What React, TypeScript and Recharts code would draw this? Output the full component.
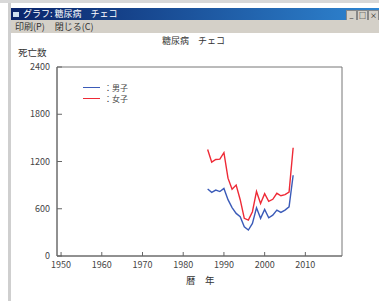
import React from 'react';
import {LineChart, Line, XAxis, YAxis, ReferenceArea} from 'recharts';

const years = [1986, 1987, 1988, 1989, 1990, 1991, 1992, 1993, 1994, 1995, 1996, 1997, 1998, 1999, 2000, 2001, 2002, 2003, 2004, 2005, 2006, 2007];
const male = [850, 808, 837, 818, 858, 715, 615, 541, 500, 372, 330, 414, 613, 478, 592, 486, 518, 583, 554, 583, 625, 1025];
const female = [1353, 1192, 1226, 1230, 1312, 988, 848, 900, 715, 478, 456, 562, 820, 666, 792, 693, 720, 796, 765, 780, 813, 1375];
const xTicks = [1950, 1960, 1970, 1980, 1990, 2000, 2010];
const yTicks = [0, 600, 1200, 1800, 2400];

const data = years.map((y, i) => ({year: y, male: male[i], female: female[i]}));

const font = '"Noto Sans CJK JP", sans-serif';
const txt = '#444';
const blue = '#3b5bb8';
const red = '#ee2a36';

export default function App() {
  return (
    <div style={{position: 'fixed', left: 0, top: 0, width: 379, height: 301, background: '#fff', overflow: 'hidden', fontFamily: font}}>
      {/* window frame */}
      <div style={{position: 'absolute', left: 0, top: 0, width: 379, height: 3, background: '#d8d8d8'}} />
      <div style={{position: 'absolute', left: 8, top: 3, width: 3, height: 298, background: '#cfcfcf'}} />
      <div style={{position: 'absolute', left: 11, top: 8, width: 368, height: 12, background: 'linear-gradient(to right, #0a246a, #2f86d2)', color: '#fff', fontSize: 9, lineHeight: '12px', whiteSpace: 'nowrap'}}>
        <span style={{display: 'inline-block', width: 6, height: 5, background: '#cfe0f0', margin: '0 4px 0 2px'}} />
        グラフ: 糖尿病　チェコ
      </div>
      {['_', '□', '×'].map((b, i) => (
        <div key={b} style={{position: 'absolute', left: 346 + i * 11, top: 10, width: 9, height: 9, background: '#d4d0c8', border: '1px solid #888', fontSize: 7, lineHeight: '9px', textAlign: 'center', color: '#000'}}>{b}</div>
      ))}
      <div style={{position: 'absolute', left: 11, top: 20, width: 368, height: 13, background: '#d4d0c8', fontSize: 9, lineHeight: '13px', color: '#333', whiteSpace: 'nowrap'}}>
        <span style={{marginLeft: 4}}>印刷(P)</span>
        <span style={{marginLeft: 10}}>閉じる(C)</span>
      </div>
      <div style={{position: 'absolute', left: 0, width: 379, top: 34, textAlign: 'center', fontSize: 9, color: '#333', paddingLeft: 4}}>糖尿病　チェコ</div>
      <div style={{position: 'absolute', left: 18, top: 48, fontSize: 9.5, lineHeight: '9px', color: '#333'}}>死亡数</div>
      <div style={{position: 'absolute', left: 186, top: 273, fontSize: 9.5, color: '#333'}}>暦　年</div>

      {/* legend */}
      <div style={{position: 'absolute', left: 83, top: 82, fontSize: 8, color: txt, lineHeight: '10px'}}>
        {[{c: blue, t: '：男子'}, {c: red, t: '：女子'}].map(r => (
          <div key={r.t} style={{display: 'flex', alignItems: 'center', height: 11}}>
            <span style={{display: 'inline-block', width: 17, height: 0, borderTop: `1.5px solid ${r.c}`, marginRight: 4}} />
            <span>{r.t}</span>
          </div>
        ))}
      </div>

      <div style={{position: 'absolute', left: 0, top: 0}}>
        <LineChart width={379} height={301} data={data} margin={{top: 67, right: 37, bottom: 25, left: 17}}>
          <XAxis dataKey="year" type="number" domain={[1949, 2019]} ticks={xTicks} allowDataOverflow
            stroke="#666" tickSize={-4} tickMargin={10} height={20}
            tick={{fill: txt, fontSize: 9, fontFamily: font}} />
          <YAxis type="number" domain={[0, 2400]} ticks={yTicks} width={40}
            stroke="#666" tickSize={-5} tickMargin={12}
            tick={{fill: txt, fontSize: 9, fontFamily: font}} />
          <ReferenceArea x1={1949} x2={2019} y1={0} y2={2400} fill="none" stroke="#777" strokeWidth={1} />
          <Line dataKey="male" stroke={blue} strokeWidth={1.4} dot={false} isAnimationActive={false} />
          <Line dataKey="female" stroke={red} strokeWidth={1.4} dot={false} isAnimationActive={false} />
        </LineChart>
      </div>
    </div>
  );
}
